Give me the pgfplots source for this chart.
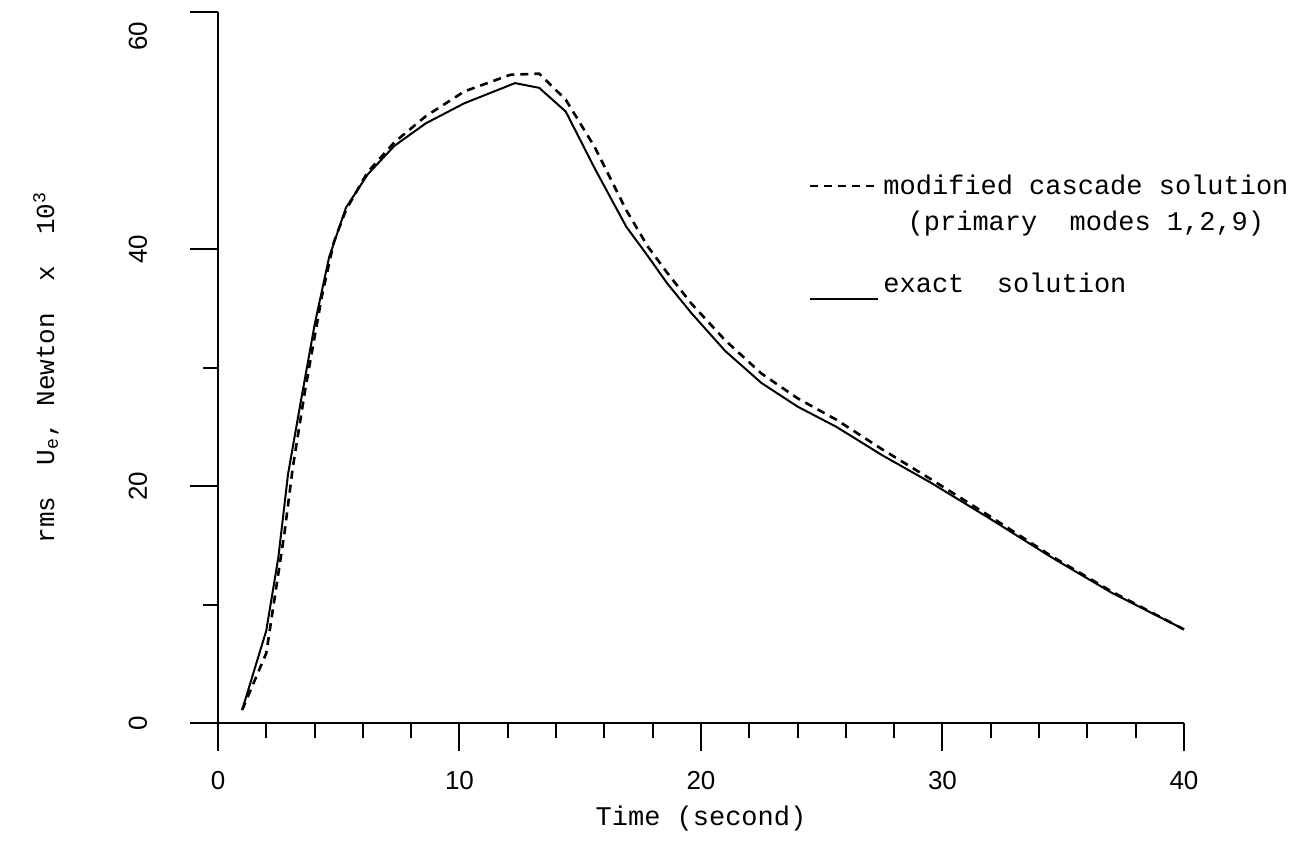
\documentclass[border=0pt]{standalone}
\usepackage{fontspec}
\setmainfont{Liberation Mono}
\newfontfamily\tickfont{Liberation Sans}
\usepackage{pgfplots}
\pgfplotsset{compat=1.18}
\usepackage{pgfplotstable}

\pgfplotsset{
  img up/.style={legend image code/.code={\draw[##1] (0pt,9pt) -- (34pt,9pt);}},
  img down/.style={legend image code/.code={\draw[##1] (0pt,-7pt) -- (34pt,-7pt);}},
}

% values
\pgfplotstableread{
t    u
1.0  1.1
2.0  7.8
2.5  14.0
2.9  21.0
3.4  26.8
4.0  33.6
4.6  39.3
5.3  43.5
6.2  46.3
7.3  48.7
8.6  50.6
10.2 52.3
12.3 54.0
13.3 53.6
14.4 51.6
15.6 46.8
16.9 41.9
17.8 39.4
18.6 37.1
19.6 34.6
21.0 31.4
22.5 28.7
24.0 26.7
25.6 25.0
27.5 22.6
29.5 20.3
32.0 17.2
34.5 14.0
37.0 11.0
40.0 7.9
}\exact

\pgfplotstableread{
t    u
1.0  1.1
2.0  5.9
2.75 16.0
3.1  21.6
3.6  28.0
4.3  36.0
4.8  40.6
5.3  43.3
6.2  46.5
7.3  49.0
8.6  51.2
10.2 53.3
12.1 54.7
13.3 54.8
14.4 52.6
15.6 48.6
16.9 43.3
17.8 40.2
18.6 38.0
19.6 35.4
21.0 32.3
22.5 29.5
24.0 27.4
25.6 25.6
27.5 23.1
29.5 20.6
32.0 17.4
34.5 14.1
37.0 11.1
40.0 7.9
}\cascade

\begin{document}
\begin{tikzpicture}
\begin{axis}[
  scale only axis,
  width=483pt, height=355.5pt,
  xmin=0, xmax=40, ymin=0, ymax=60,
  axis x line=bottom, axis y line=left,
  axis line style={-, line width=1pt},
  tick align=outside,
  xtick={0,10,20,30,40}, minor x tick num=4,
  ytick={0,20,40}, minor y tick num=1,
  extra y ticks={60},
  extra y tick style={yticklabel style={xshift=-12pt}},
  major tick length=14pt, minor tick length=7.5pt,
  every tick/.style={black, line width=1pt},
  /pgf/number format/assume math mode=true,
  tick label style={font=\fontsize{13pt}{15pt}\tickfont},
  xticklabel style={anchor=center, yshift=-15pt},
  yticklabel style={anchor=center, xshift=-26pt, rotate=90},
  xlabel={Time (second)},
  ylabel={rms\ \ U\textsubscript{e}, Newton\ \ x\ \ 10\textsuperscript{3}},
  every axis x label/.style={at={(axis description cs:0.5,-0.134)}, anchor=center,
    font=\fontsize{13.5pt}{16pt}\selectfont},
  every axis y label/.style={at={(axis description cs:-0.178,0.5)}, anchor=center, rotate=90,
    font=\fontsize{13pt}{16pt}\selectfont},
  clip=false,
  legend style={at={(axis description cs:0.605,0.783)}, anchor=north west,
    draw=none, fill=none, font=\fontsize{13.5pt}{18pt}\selectfont,
    cells={align=left}, row sep=16pt},
  legend cell align=left,
]
\path (axis description cs:-0.2257,-0.194) rectangle (axis description cs:1.1222,1.0169);
\addplot[black, line width=1.3pt, dash pattern=on 4pt off 3pt, img up]
  table[x=t, y=u] {\cascade};
\addlegendentry{modified cascade solution\\\hspace*{0.9em}(primary\ \ modes 1,2,9)}
\addplot[black, line width=1pt, img down]
  table[x=t, y=u] {\exact};
\addlegendentry{exact\ \ solution}
\end{axis}
\end{tikzpicture}
\end{document}
